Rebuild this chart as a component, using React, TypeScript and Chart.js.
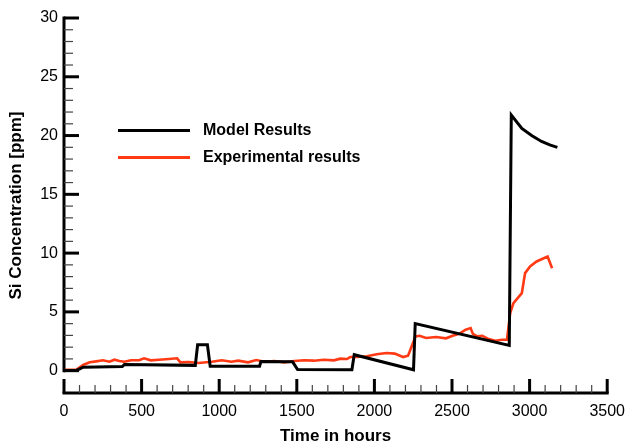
import React, { useEffect, useRef } from 'react';
import { Chart, registerables } from 'chart.js';

Chart.register(...registerables);

const seriesLabels = ['Model Results', 'Experimental results'];

const modelHours = [0, 81, 123, 376, 389, 846, 861, 924, 942, 1260, 1269, 1473, 1505, 1855, 1870, 2252, 2263, 2869, 2882, 2950, 3013, 3077, 3130, 3179];
const modelSi = [0.02, 0.02, 0.3, 0.35, 0.52, 0.45, 2.2, 2.2, 0.38, 0.38, 0.78, 0.75, 0.1, 0.08, 1.36, 0.08, 4.0, 2.15, 21.75, 20.6, 20.0, 19.5, 19.2, 19.0];

const expHours = [6, 81, 123, 166, 208, 251, 293, 325, 357, 389, 432, 484, 516, 559, 612, 676, 729, 750, 803, 867, 952, 1016, 1079, 1122, 1186, 1239, 1292, 1356, 1420, 1484, 1547, 1611, 1675, 1739, 1781, 1823, 1844, 1887, 1951, 2015, 2078, 2131, 2185, 2217, 2244, 2265, 2291, 2333, 2397, 2461, 2504, 2546, 2588, 2620, 2635, 2663, 2695, 2737, 2780, 2822, 2854, 2875, 2896, 2950, 2971, 3003, 3045, 3116, 3145];
const expSi = [0.08, 0.1, 0.48, 0.71, 0.79, 0.88, 0.76, 0.93, 0.82, 0.76, 0.88, 0.88, 1.05, 0.88, 0.93, 0.99, 1.05, 0.71, 0.74, 0.65, 0.76, 0.88, 0.76, 0.85, 0.71, 0.91, 0.76, 0.82, 0.71, 0.82, 0.88, 0.85, 0.93, 0.88, 1.02, 0.99, 1.16, 1.16, 1.22, 1.39, 1.5, 1.45, 1.16, 1.27, 2.21, 2.92, 2.97, 2.78, 2.86, 2.75, 2.97, 3.14, 3.48, 3.62, 3.12, 2.92, 2.97, 2.69, 2.55, 2.63, 2.63, 4.9, 5.75, 6.6, 8.3, 8.86, 9.29, 9.71, 8.72];

const xTickValues = [0, 500, 1000, 1500, 2000, 2500, 3000, 3500];
const yTickValues = [0, 5, 10, 15, 20, 25, 30];

const FONT = '"Liberation Sans", Arial, Helvetica, sans-serif';
const RED = '#ff3a14';

const axesPlugin = {
  id: 'tecplotAxes',
  beforeDatasetsDraw(chart: any) {
    const { ctx, chartArea } = chart;
    const xs = chart.scales.x;
    const ys = chart.scales.y;
    ctx.save();
    ctx.strokeStyle = '#000';
    ctx.lineCap = 'butt';

    // Y axis
    const x0 = xs.getPixelForValue(0);
    const yTop = ys.getPixelForValue(30);
    const yZero = ys.getPixelForValue(0);
    ctx.lineWidth = 3;
    ctx.beginPath();
    ctx.moveTo(x0, yTop - 1.5);
    ctx.lineTo(x0, yZero + 1.5);
    ctx.stroke();
    for (let v = 0; v <= 30; v++) {
      const major = v % 5 === 0;
      const py = ys.getPixelForValue(v);
      ctx.lineWidth = major ? 3 : 1.2;
      ctx.strokeStyle = major ? '#000' : '#444';
      ctx.beginPath();
      ctx.moveTo(x0, py);
      ctx.lineTo(x0 + (major ? 15 : 9), py);
      ctx.stroke();
    }

    // X axis
    const yb = chartArea.bottom;
    const xEnd = xs.getPixelForValue(3500);
    ctx.strokeStyle = '#000';
    ctx.lineWidth = 3;
    ctx.beginPath();
    ctx.moveTo(x0 - 1.5, yb);
    ctx.lineTo(xEnd + 1.5, yb);
    ctx.stroke();
    for (let v = 0; v <= 3500; v += 100) {
      const major = v % 500 === 0;
      const px = xs.getPixelForValue(v);
      ctx.lineWidth = major ? 3 : 1.2;
      ctx.strokeStyle = major ? '#000' : '#444';
      ctx.beginPath();
      ctx.moveTo(px, yb);
      ctx.lineTo(px, yb - (major ? 14 : 8));
      ctx.stroke();
    }
    ctx.restore();
  },
  afterDraw(chart: any) {
    const { ctx } = chart;
    const rows = [130.5, 157.5];
    ctx.save();
    chart.data.datasets.forEach((ds: any, i: number) => {
      const y = rows[i];
      ctx.strokeStyle = ds.borderColor;
      ctx.lineWidth = 3;
      ctx.beginPath();
      ctx.moveTo(118, y);
      ctx.lineTo(190, y);
      ctx.stroke();
      ctx.fillStyle = '#000';
      ctx.font = `bold 16px ${FONT}`;
      ctx.textBaseline = 'middle';
      ctx.textAlign = 'left';
      ctx.fillText(ds.label, 203, y);
    });
    ctx.restore();
  },
};

export default function App() {
  const ref = useRef<HTMLCanvasElement>(null);
  useEffect(() => {
    const chart = new Chart(ref.current as HTMLCanvasElement, {
      type: 'line',
      data: {
        datasets: [
          {
            label: seriesLabels[0],
            data: modelHours.map((h, i) => ({ x: h, y: modelSi[i] })),
            borderColor: '#000000',
            borderWidth: 3,
            pointRadius: 0,
            tension: 0,
            fill: false,
          },
          {
            label: seriesLabels[1],
            data: expHours.map((h, i) => ({ x: h, y: expSi[i] })),
            borderColor: RED,
            borderWidth: 2.6,
            pointRadius: 0,
            tension: 0,
            fill: false,
          },
        ],
      },
      options: {
        responsive: false,
        animation: false,
        layout: { padding: { top: 18, right: 21, bottom: 0, left: 0 } },
        plugins: { legend: { display: false }, tooltip: { enabled: false } },
        scales: {
          x: {
            type: 'linear',
            min: 0,
            max: 3500,
            afterBuildTicks: (s: any) => {
              s.ticks = xTickValues.map((v) => ({ value: v }));
            },
            afterFit: (s: any) => {
              s.height = 51;
            },
            grid: { display: false, drawTicks: false },
            border: { display: false },
            ticks: {
              padding: 9,
              color: '#000',
              maxRotation: 0,
              autoSkip: false,
              font: { family: FONT, size: 16 },
              callback: (v: any) => String(v),
            },
            title: {
              display: true,
              text: 'Time in hours',
              color: '#000',
              font: { family: FONT, size: 17, weight: 'bold', lineHeight: 0.9 },
              padding: { top: 0, bottom: 0 },
            },
          },
          y: {
            type: 'linear',
            min: -1.9,
            max: 30,
            afterBuildTicks: (s: any) => {
              s.ticks = yTickValues.map((v) => ({ value: v }));
            },
            afterFit: (s: any) => {
              s.width = 64;
            },
            grid: { display: false, drawTicks: false },
            border: { display: false },
            ticks: {
              padding: 6,
              color: '#000',
              autoSkip: false,
              font: { family: FONT, size: 16 },
              callback: (v: any) => String(v),
            },
            title: {
              display: true,
              text: 'Si Concentration [ppm]',
              color: '#000',
              font: { family: FONT, size: 17, weight: 'bold', lineHeight: 1.2 },
              padding: { top: 6.5, bottom: 0 },
            },
          },
        },
      },
      plugins: [axesPlugin],
    } as any);
    return () => chart.destroy();
  }, []);
  return (
    <div style={{ position: 'absolute', left: 0, top: 0, width: 634, height: 444, background: '#fff' }}>
      <canvas ref={ref} width={634} height={444} style={{ display: 'block' }} />
    </div>
  );
}
